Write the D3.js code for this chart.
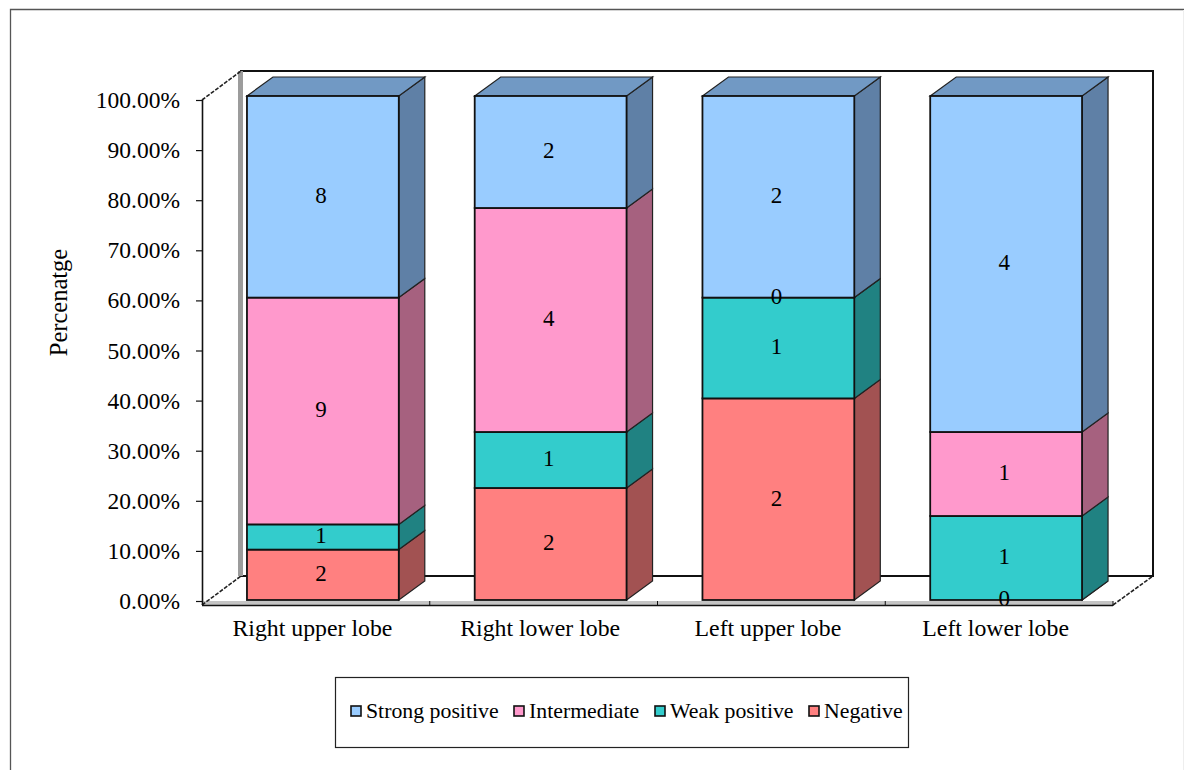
<!DOCTYPE html>
<html>
<head>
<meta charset="utf-8">
<script src="https://cdn.jsdelivr.net/npm/d3@7/dist/d3.min.js"></script>
<style>
html, body { margin: 0; padding: 0; background: #fff; }
svg { display: block; }
text { font-family: "Liberation Serif", "Times New Roman", serif; fill: #000; }
</style>
</head>
<body>
<svg id="chart" width="1184" height="770"></svg>
<script>
// Patient counts per lung lobe and staining grade
const categories = ["Right upper lobe", "Right lower lobe", "Left upper lobe", "Left lower lobe"];
const seriesNames = ["Negative", "Weak positive", "Intermediate", "Strong positive"];
const negative = [2, 2, 2, 0];
const weakPositive = [1, 1, 1, 1];
const intermediate = [9, 4, 0, 1];
const strongPositive = [8, 2, 2, 4];
const legendOrder = ["Strong positive", "Intermediate", "Weak positive", "Negative"];
const yTicks = [0, 0.1, 0.2, 0.3, 0.4, 0.5, 0.6, 0.7, 0.8, 0.9, 1];

const frontColors = ["#FF8080", "#33CCCC", "#FF99CC", "#99CCFF"];
const sideColors = ["#A25252", "#208282", "#A6617F", "#5F80A6"];
const topColor = "#7199C4";

const svg = d3.select("#chart");

// Plot box: front plane of the floor, and the depth of the walls and of the bars
const plot = { left: 202, right: 1113, top: 100, bottom: 601, base: 605 };
const wall = { dx: 39, dy: -29 };
const depth = { dx: 26, dy: -19 };
const barShift = { dx: 7, top: 96, bottom: 600 };

const rows = categories.map((c, i) => ({
  category: c,
  "Negative": negative[i],
  "Weak positive": weakPositive[i],
  "Intermediate": intermediate[i],
  "Strong positive": strongPositive[i]
}));
const stacked = d3.stack().keys(seriesNames).offset(d3.stackOffsetExpand)(rows);

const x = d3.scaleBand().domain(categories).range([plot.left, plot.right])
  .paddingInner(1 / 3).paddingOuter(1 / 6);
const yAxisScale = d3.scaleLinear().domain([0, 1]).range([plot.bottom, plot.top]);
const yBar = d3.scaleLinear().domain([0, 1]).range([barShift.bottom, barShift.top]);
const color = d3.scaleOrdinal().domain(seriesNames).range(frontColors);
const side = d3.scaleOrdinal().domain(seriesNames).range(sideColors);

// Outer chart frame
svg.append("path").attr("d", "M10.5,770V9.5H1184").attr("fill", "none").attr("stroke", "#555").attr("stroke-width", 1.3);
svg.append("path").attr("d", "M1183.5,10V770").attr("fill", "none").attr("stroke", "#eee");

// Back wall, left wall band, and floor
const backL = plot.left + wall.dx, backR = plot.right + wall.dx + 1;
const backT = plot.top + wall.dy, backB = plot.base + wall.dy;
svg.append("path")
  .attr("d", `M${backL},${backB}V${backT}H${backR}V${backB}Z`)
  .attr("fill", "#fff").attr("stroke", "#111").attr("stroke-width", 2);
svg.append("rect").attr("x", backL - 3).attr("y", backT).attr("width", 5).attr("height", backB - backT).attr("fill", "#9c9c9c");
svg.append("path")
  .attr("d", `M${plot.left},${plot.bottom}H${plot.right}V${plot.base}H${plot.left}Z`)
  .attr("fill", "#c4c4c4");
svg.append("path")
  .attr("d", `M${plot.left},${plot.top}L${backL},${backT}M${plot.left},${plot.base}L${backL},${backB}M${plot.right},${plot.base}L${backR},${backB}`)
  .attr("stroke", "#222").attr("stroke-width", 1.6).attr("stroke-dasharray", "4 1.5").attr("fill", "none");

// Stacked bars: side face, top face, front face
const barX = d => x(d.data.category) + barShift.dx;
const groups = svg.append("g").selectAll("g").data(stacked).join("g");

groups.selectAll("path.side").data(s => s.map(d => ({ ...d, key: s.key }))).join("path")
  .attr("class", "side")
  .attr("d", d => {
    const r = barX(d) + x.bandwidth(), y0 = yBar(d[0]), y1 = yBar(d[1]);
    return `M${r},${y0}L${r + depth.dx},${y0 + depth.dy}V${y1 + depth.dy}L${r},${y1}Z`;
  })
  .attr("fill", d => side(d.key)).attr("stroke", "#222").attr("stroke-width", 1.2);

svg.append("g").selectAll("path").data(stacked[stacked.length - 1]).join("path")
  .attr("d", d => {
    const l = barX(d), r = l + x.bandwidth(), t = yBar(d[1]);
    return `M${l},${t}L${l + depth.dx},${t + depth.dy}H${r + depth.dx}L${r},${t}Z`;
  })
  .attr("fill", topColor).attr("stroke", "#222").attr("stroke-width", 1.2);

const fronts = svg.append("g").selectAll("g").data(stacked).join("g");
fronts.selectAll("rect").data(s => s.map(d => ({ ...d, key: s.key }))).join("rect")
  .attr("x", barX)
  .attr("y", d => yBar(d[1]))
  .attr("width", x.bandwidth())
  .attr("height", d => yBar(d[0]) - yBar(d[1]))
  .attr("fill", d => color(d.key))
  .attr("stroke", "#111").attr("stroke-width", 1.8);

// Value labels at the centre of each front face
const valueLabels = svg.append("g").attr("font-size", 23).attr("text-anchor", "middle");
stacked.forEach(s => {
  valueLabels.selectAll(null).data(s).join("text")
    .attr("x", d => barX(d) + x.bandwidth() / 2 - 2)
    .attr("y", d => yBar((d[0] + d[1]) / 2))
    .attr("dy", "0.28em")
    .text(d => d.data[s.key]);
});

// Value axis
const yAxis = svg.append("g")
  .attr("transform", `translate(${plot.left},0)`)
  .call(d3.axisLeft(yAxisScale).tickValues(yTicks).tickFormat(d3.format(".2%")).tickSize(6).tickPadding(16).tickSizeOuter(0));
yAxis.select(".domain").attr("d", `M0.5,${plot.top}V${plot.base}`).attr("stroke", "#111").attr("stroke-width", 1.6);
yAxis.selectAll(".tick line").attr("stroke", "#111").attr("stroke-width", 1.2);
yAxis.selectAll("text").attr("font-size", 23.5).attr("font-family", "Liberation Serif");

// Category axis with separators between the groups
const xAxis = svg.append("g")
  .attr("transform", `translate(0,${plot.base})`)
  .call(d3.axisBottom(x).tickSize(0).tickPadding(14));
xAxis.select(".domain").attr("d", `M${plot.left},0.5H${plot.right}`).attr("stroke", "#111").attr("stroke-width", 1.6);
xAxis.selectAll("text").attr("font-size", 23.8).attr("font-family", "Liberation Serif").attr("dx", -3.5);
svg.append("g").selectAll("line").data(d3.range(1, categories.length + 1)).join("line")
  .attr("x1", i => plot.left + i * x.step())
  .attr("x2", i => plot.left + i * x.step())
  .attr("y1", plot.base - 4).attr("y2", plot.base + 1)
  .attr("stroke", "#111").attr("stroke-width", 1);

// Axis title
svg.append("text")
  .attr("transform", "translate(67,302.5) rotate(-90)")
  .attr("text-anchor", "middle")
  .attr("font-size", 24.5)
  .text("Percenatge");

// Legend
const legend = svg.append("g");
legend.append("rect").attr("x", 335.5).attr("y", 677.5).attr("width", 573).attr("height", 70)
  .attr("fill", "#fff").attr("stroke", "#222").attr("stroke-width", 1.2);
const legendX = d3.scaleOrdinal().domain(legendOrder).range([351, 514, 655, 809]);
const entries = legend.selectAll("g").data(legendOrder).join("g")
  .attr("transform", d => `translate(${legendX(d)},706)`);
entries.append("rect").attr("width", 10).attr("height", 10)
  .attr("fill", d => color(d)).attr("stroke", "#111").attr("stroke-width", 1.6);
entries.append("text").attr("x", 15).attr("y", 5).attr("dy", "0.32em")
  .attr("font-size", 21.8).text(d => d);
</script>
</body>
</html>
